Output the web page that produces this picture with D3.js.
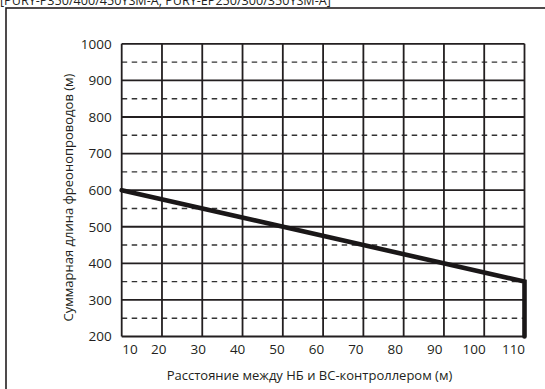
<!DOCTYPE html>
<html><head><meta charset="utf-8">
<script src="https://cdn.jsdelivr.net/npm/d3@7"></script>
<style>
html,body{margin:0;padding:0;background:#fff;overflow:hidden}
text{font-family:"Open Sans",sans-serif;fill:#231f20}
</style></head>
<body>
<svg id="chart" width="545" height="389"></svg>
<script>
// ---- data ----
const title = "[PURY-P350/400/450YSM-A, PURY-EP250/300/350YSM-A]";
const xTitle = "Расстояние между НБ и ВС-контроллером (м)";
const yTitle = "Суммарная длина фреонопроводов (м)";
const xTicks = [10, 20, 30, 40, 50, 60, 70, 80, 90, 100, 110];
const yTicks = [200, 300, 400, 500, 600, 700, 800, 900, 1000];
const yMinorTicks = [250, 350, 450, 550, 650, 750, 850, 950];
const distance = [10, 110, 110];
const totalLength = [600, 350, 200];

// ---- layout ----
const svg = d3.select("#chart");
const ink = "#231f20";
const x = d3.scaleLinear().domain([10, 110]).range([121.7, 524.5]);
const xLabel = d3.scaleLinear().domain([20, 110]).range([158.3, 513]);
const y = d3.scaleLinear().domain([200, 1000]).range([336.5, 43.8]);

// clipped title at the top
svg.append("text").attr("x", 0).attr("y", 4.5)
  .style("font-size", "12.6px").text(title);

// outer frame (extends beyond the picture)
svg.append("rect").attr("x", 6).attr("y", 8).attr("width", 700).attr("height", 500)
  .attr("fill", "none").attr("stroke", ink).attr("stroke-width", 1.6);

// minor dashed gridlines
svg.append("g").selectAll("line").data(yMinorTicks).join("line")
  .attr("x1", x(10)).attr("x2", x(110))
  .attr("y1", d => y(d)).attr("y2", d => y(d))
  .attr("stroke", "#333").attr("stroke-width", 1.4)
  .attr("stroke-dasharray", "5.5,4.5");

// major gridlines
svg.append("g").selectAll("line").data(yTicks).join("line")
  .attr("x1", x(10)).attr("x2", x(110))
  .attr("y1", d => y(d)).attr("y2", d => y(d))
  .attr("stroke", ink).attr("stroke-width", 1.8);
svg.append("g").selectAll("line").data(xTicks).join("line")
  .attr("x1", d => x(d)).attr("x2", d => x(d))
  .attr("y1", y(200)).attr("y2", y(1000))
  .attr("stroke", ink).attr("stroke-width", 1.8);

// axes (labels only)
const yAxis = svg.append("g").attr("transform", `translate(${x(10)},0)`)
  .call(d3.axisLeft(y).tickValues(yTicks).tickSize(0).tickPadding(10).tickFormat(d3.format("d")));
yAxis.select(".domain").remove();
yAxis.selectAll("text").style("font-size", "13.5px").style("font-family", "'Open Sans',sans-serif").attr("fill", ink);

const xAxis = svg.append("g").attr("transform", `translate(0,${y(200)})`)
  .call(d3.axisBottom(xLabel).tickValues(xTicks).tickSize(0).tickPadding(8).tickFormat(d3.format("d")));
xAxis.select(".domain").remove();
xAxis.selectAll("text").style("font-size", "13.5px").style("font-family", "'Open Sans',sans-serif").attr("fill", ink);
xAxis.selectAll(".tick").filter(d => d === 10).select("text")
  .attr("text-anchor", "start").attr("x", x(10) - xLabel(10));

// axis titles
svg.append("text").attr("x", 309.5).attr("y", 380).attr("text-anchor", "middle")
  .style("font-size", "13px").text(xTitle);
svg.append("text").attr("transform", "translate(73,197.5) rotate(-90)")
  .attr("text-anchor", "middle").style("font-size", "13px").text(yTitle);

// data line
const line = d3.line().x((d, i) => x(distance[i])).y((d, i) => y(totalLength[i]));
svg.append("path").datum(distance).attr("d", line)
  .attr("fill", "none").attr("stroke", "#1a1718").attr("stroke-width", 4.6)
  .attr("stroke-linecap", "round").attr("stroke-linejoin", "miter");
</script>
</body></html>
